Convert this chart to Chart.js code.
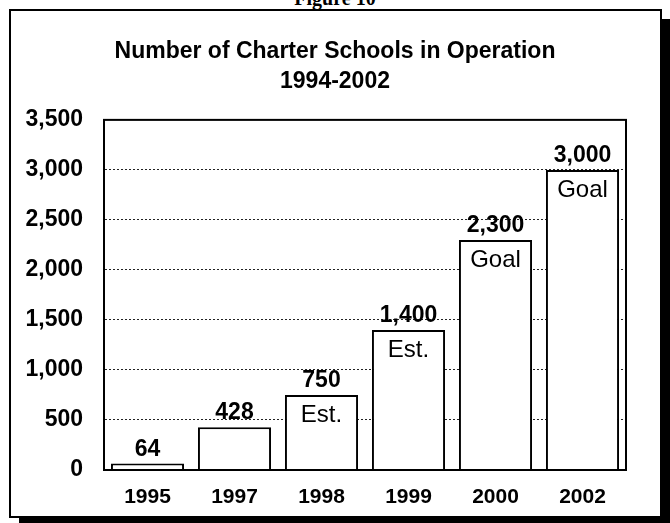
<!DOCTYPE html>
<html>
<head>
<meta charset="utf-8">
<script src="https://cdn.jsdelivr.net/npm/chart.js@4.4.1/dist/chart.umd.min.js"></script>
<style>
  html, body { margin: 0; padding: 0; background: #fff; width: 670px; height: 523px; overflow: hidden; }
  #fig { position: absolute; left: 0; top: -13px; width: 670px; text-align: center; font: bold 20px "Liberation Serif", serif; color: #000; }
  #box { position: absolute; left: 9px; top: 9px; width: 653px; height: 509px; box-sizing: border-box; border: 2px solid #000; box-shadow: 10px 10px 0 0 #000; background: #fff; }
  #c { position: absolute; left: 0; top: 0; }
</style>
</head>
<body>
<div id="fig">Figure 10</div>
<div id="box"></div>
<canvas id="c" width="670" height="523"></canvas>
<script>
const categories = ['1995', '1997', '1998', '1999', '2000', '2002'];
const schools = [64, 428, 750, 1400, 2300, 3000];
const notes = ['', '', 'Est.', 'Est.', 'Goal', 'Goal'];
const titleLines = ['Number of Charter Schools in Operation', '1994-2002'];
const yMin = 0, yMax = 3500, yStep = 500;

const fmt = v => Number(v).toLocaleString('en-US');

const barLabels = {
  id: 'barLabels',
  afterDatasetsDraw(chart) {
    const ctx = chart.ctx;
    const meta = chart.getDatasetMeta(0);
    ctx.save();
    ctx.fillStyle = '#000';
    ctx.textAlign = 'center';
    meta.data.forEach((bar, i) => {
      ctx.font = 'bold 23px "Liberation Sans", Arial, sans-serif';
      ctx.textBaseline = 'alphabetic';
      ctx.fillText(fmt(schools[i]), bar.x, bar.y - 8);
      if (notes[i]) {
        ctx.font = '24px "Liberation Sans", Arial, sans-serif';
        ctx.textBaseline = 'top';
        ctx.fillText(notes[i], bar.x, bar.y + 8);
      }
    });
    ctx.restore();
  }
};

const frame = {
  id: 'frame',
  afterDraw(chart) {
    const a = chart.chartArea;
    const ctx = chart.ctx;
    ctx.save();
    ctx.strokeStyle = '#000';
    ctx.lineWidth = 2;
    ctx.strokeRect(a.left, a.top, a.right - a.left, a.bottom - a.top);
    ctx.restore();
  }
};

new Chart(document.getElementById('c'), {
  type: 'bar',
  data: {
    labels: categories,
    datasets: [{
      data: schools,
      yAxisID: 'y',
      backgroundColor: '#fff',
      borderColor: '#000',
      borderWidth: 2,
      barPercentage: 0.84,
      categoryPercentage: 1.0
    }]
  },
  options: {
    responsive: false,
    animation: false,
    layout: { padding: { left: 0, right: 0, top: 0, bottom: 0 } },
    plugins: {
      legend: { display: false },
      tooltip: { enabled: false },
      title: {
        display: true,
        text: titleLines,
        color: '#000',
        font: { family: '"Liberation Sans", Arial, sans-serif', size: 23, weight: 'bold', lineHeight: 1.28 },
        padding: { top: 37, bottom: 24 }
      }
    },
    scales: {
      x: {
        grid: { display: false },
        border: { display: true, color: '#000', width: 2 },
        ticks: {
          color: '#000',
          padding: 7,
          font: { family: '"Liberation Sans", Arial, sans-serif', size: 21, weight: 'bold' }
        },
        afterFit(s) { s.height = 53; }
      },
      y: {
        min: yMin,
        max: yMax,
        grid: {
          drawTicks: false,
          lineWidth: 1,
          color: ctx => (ctx.tick && (ctx.tick.value === yMin || ctx.tick.value === yMax)) ? 'rgba(0,0,0,0)' : '#222'
        },
        border: { display: true, color: '#000', width: 2, dash: [2, 2] },
        ticks: {
          stepSize: yStep,
          color: '#000',
          padding: 21,
          font: { family: '"Liberation Sans", Arial, sans-serif', size: 23, weight: 'bold' },
          callback: v => fmt(v)
        },
        afterFit(s) { s.width = 104; }
      },
      yRight: {
        position: 'right',
        display: true,
        min: yMin,
        max: yMax,
        grid: { display: false, drawTicks: false },
        border: { display: false },
        ticks: { display: false },
        afterFit(s) { s.width = 44; }
      }
    }
  },
  plugins: [barLabels, frame]
});
</script>
</body>
</html>
